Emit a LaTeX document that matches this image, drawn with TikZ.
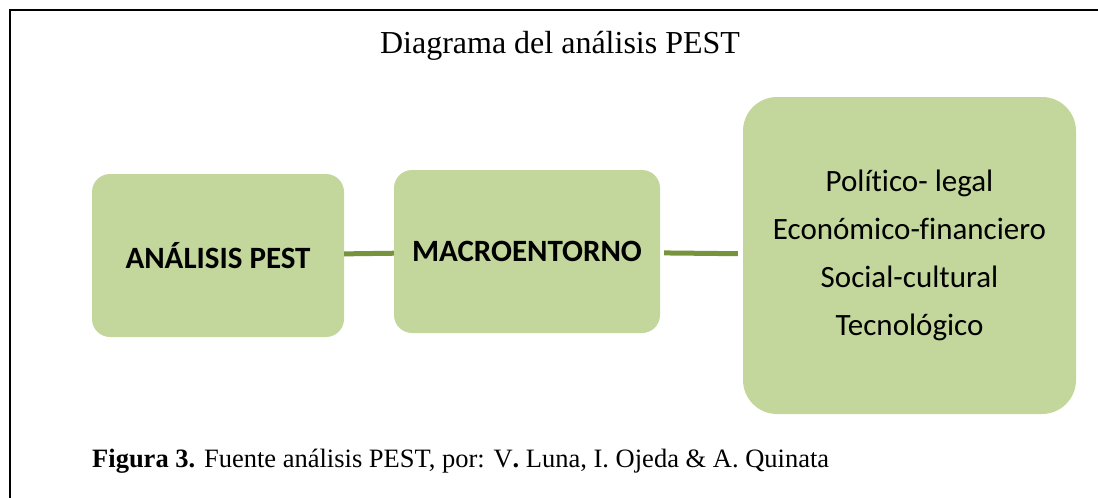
\documentclass[tikz,border=0pt]{standalone}
\usepackage{fontspec}
\setmainfont{Liberation Serif}
\newfontfamily\boxfont[Ligatures=NoCommon]{Carlito}
\definecolor{boxgreen}{HTML}{C3D69B}
\definecolor{linegreen}{HTML}{77933C}
\begin{document}
\begin{tikzpicture}[x=1pt,y=-1pt,
  pestbox/.style={fill=boxgreen, inner sep=0pt, align=center,
    font=\boxfont\fontsize{31}{48}\selectfont},
  link/.style={linegreen, line width=5pt, shorten <=4pt, shorten >=5pt}]
\useasboundingbox (0,0) rectangle (1098,498);
\draw[line width=2pt] (10,498) -- (10,10) -- (1098,10);
\node (title) at (560,53) [anchor=base, font=\fontsize{32}{38}\selectfont] {Diagrama del análisis PEST};

\node (pest) at (218,255.5) [pestbox, rounded corners=18pt, minimum width=252pt, minimum height=163pt] {\raisebox{-4pt}{\bfseries ANÁLISIS PEST}};
\node (macro) at (527,251.5) [pestbox, rounded corners=18pt, minimum width=266pt, minimum height=163pt] {\bfseries MACROENTORNO};
\node (factors) at (909.5,255.5) [pestbox, rounded corners=34pt, minimum width=333pt, minimum height=317pt]
  {Político- legal\\Económico-financiero\\Social-cultural\\Tecnológico};

\node (caption) at (92,467) [anchor=base west, inner sep=0pt, font=\fontsize{26.5}{30}\selectfont]
  {\textbf{Figura 3.} Fuente análisis PEST, por: V\textbf{.} Luna, I. Ojeda \& A. Quinata};

\draw[link]
(pest) to (macro)
(macro) to (factors);
\end{tikzpicture}
\end{document}
